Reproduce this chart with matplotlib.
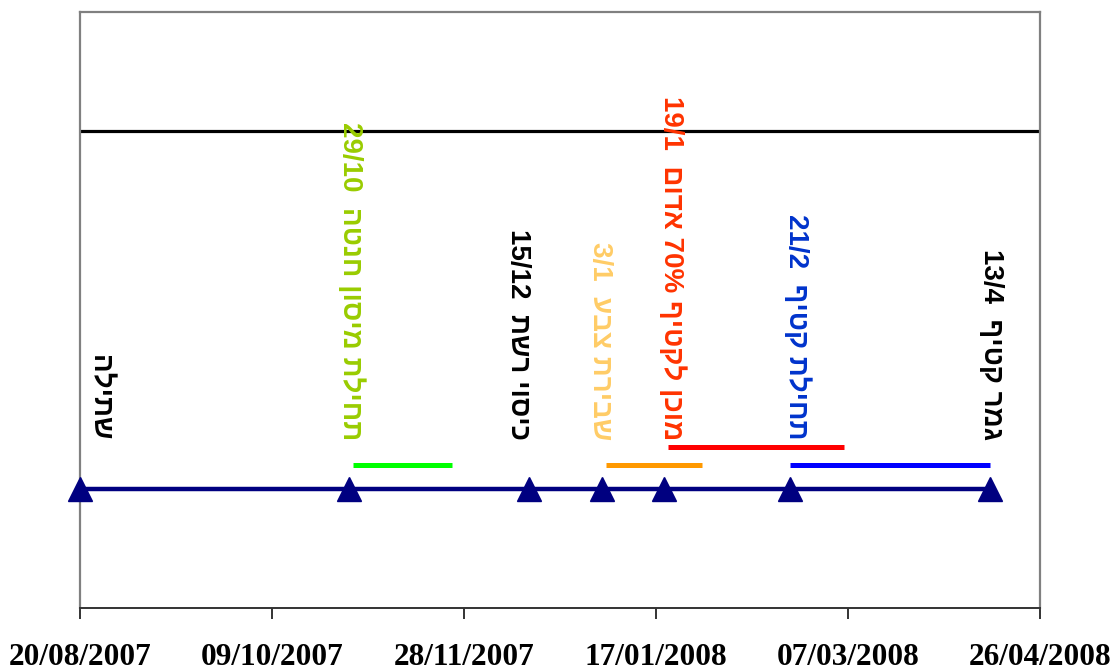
import matplotlib
matplotlib.use("Agg")
import matplotlib.pyplot as plt
import matplotlib.dates as mdates
import numpy as np
import re

# ---------------- data ----------------
event_dates = ["2007-08-20", "2007-10-29", "2007-12-15", "2008-01-03",
               "2008-01-19", "2008-02-21", "2008-04-13"]
event_labels = ["שתילה", "תחילת מיסון חנטה  29/10", "כיסוי רשת  15/12",
                "שבירת צבע  3/1", "מוכן לקטיף 70% אדום  19/1",
                "תחילת קטיף  21/2", "גמר קטיף  13/4"]
event_level = 1.0
top_line_level = 4.0

period_starts = ["2007-10-30", "2008-01-04", "2008-01-20", "2008-02-21"]
period_ends = ["2007-11-25", "2008-01-29", "2008-03-06", "2008-04-13"]
period_levels = [1.2, 1.2, 1.35, 1.2]

tick_dates = ["2007-08-20", "2007-10-09", "2007-11-28", "2008-01-17",
              "2008-03-07", "2008-04-26"]

# ---------------- style ----------------
label_colors = ["black", "#99CC00", "black", "#FFCC66", "#FF3300", "#0033CC", "black"]
label_dx_px = [19, 2, -11, -2, 8, 6, 1]
period_colors = ["#00FF00", "#FF9900", "#FF0000", "#0000FF"]

heb = re.compile(r"[\u0590-\u05FF]")


def visual(s):
    # logical RTL -> visual LTR order (matplotlib has no bidi)
    toks = s.split(" ")
    out = [t[::-1] if heb.search(t) else t for t in reversed(toks)]
    return " ".join(out)


def d(s):
    return mdates.datestr2num(s)


W, H = 1110, 669
fig = plt.figure(figsize=(W / 100, H / 100), dpi=100)
ax = fig.add_axes([80 / W, (H - 608) / H, (1040 - 80) / W, (608 - 12) / H])

ax.set_xlim(d("2007-08-20"), d("2008-04-26"))
ax.set_ylim(0, 5)

# top black line
ax.axhline(top_line_level, color="black", lw=2.3, zorder=2)

# event line with triangles
ex = [d(s) for s in event_dates]
ax.plot([ex[0], ex[-1]], [event_level, event_level], color="#000080", lw=3.2,
        zorder=3, solid_capstyle="butt")
ax.plot(ex, [event_level] * len(ex), linestyle="none", marker="^",
        markersize=17, color="#000080", zorder=4, clip_on=False)

# period segments
for s, e, lv, c in zip(period_starts, period_ends, period_levels, period_colors):
    ax.plot([d(s), d(e)], [lv, lv], color=c, lw=3.6, solid_capstyle="butt", zorder=3)

# rotated labels
for x, lab, c, dx in zip(ex, event_labels, label_colors, label_dx_px):
    ax.annotate(visual(lab), xy=(x, 1.41), xytext=(dx * 0.72, 0),
                textcoords="offset points", rotation=-90, ha="center", va="bottom",
                color=c, fontsize=20, fontweight="bold", family=["Liberation Sans", "DejaVu Sans"],
                zorder=5)

# axes styling
for side in ["left", "top", "right"]:
    ax.spines[side].set_color("#808080")
    ax.spines[side].set_linewidth(1.6)
ax.spines["bottom"].set_color("#333333")
ax.spines["bottom"].set_linewidth(1.4)
ax.set_yticks([])
ax.set_xticks([d(s) for s in tick_dates])
ax.xaxis.set_major_formatter(mdates.DateFormatter("%d/%m/%Y"))
ax.tick_params(axis="x", direction="out", length=8, width=1.4, color="#333333", pad=17)
for t in ax.get_xticklabels():
    t.set_fontfamily("Liberation Serif")
    t.set_fontweight("bold")
    t.set_fontsize(22.5)

fig.savefig("out.png", dpi=100)
